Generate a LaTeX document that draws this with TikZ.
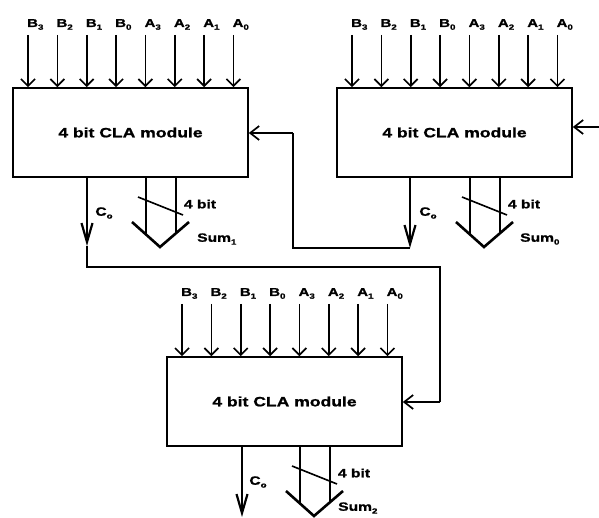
\documentclass[tikz,border=0pt]{standalone}
\usepackage{fontspec}
\setmainfont[FakeStretch=1.3,FakeBold=1.2]{Liberation Sans}
\usetikzlibrary{arrows.meta}
\newcommand\sbs[1]{\raisebox{-0.45ex}{\fontsize{7.5}{7.5}\selectfont #1}}
\tikzset{
  wire/.style={line width=1.6pt},
  clabox/.style={draw, line width=1.6pt, minimum width=235pt, minimum height=89pt, inner sep=0pt,
     font=\fontsize{13.5}{14}\selectfont\bfseries},
  inarr/.style={wire, -{Straight Barb[length=7pt,width=14pt,line width=1.7pt]}},
  cinarr/.style={wire, -{Straight Barb[length=9pt,width=14pt,line width=1.7pt]}},
  coarr/.style={wire, -{Straight Barb[length=19pt,width=11pt,line width=2.2pt]}},
  bus/.style={line width=1.6pt},
  busv/.style={line width=2.6pt},
  inlab/.style={inner sep=0pt, font=\fontsize{11.5}{12}\selectfont\bfseries},
  smlab/.style={inner sep=0pt, font=\fontsize{12}{12}\selectfont\bfseries},
}
\newcommand\clamod[5]{%
  % #1 name, #2 left, #3 top, #4 sum index, #5 sum label x offset
  \node[clabox] (#1) at (#2+117.5, #3+44.5) {4 bit CLA module};
  \foreach \lab [count=\i from 0] in {B\sbs{3},B\sbs{2},B\sbs{1},B\sbs{0},A\sbs{3},A\sbs{2},A\sbs{1},A\sbs{0}} {
    \node[inlab, anchor=base west] (#1lab\i) at (#2+14+29.35*\i, #3-61) {\lab};
    \coordinate (#1in\i) at (#2+15+29.35*\i, #3-53);
    \draw[inarr] (#1in\i) -- (#1in\i |- #1.north);
  }
  % sum bus
  \coordinate (#1sa) at (#2+133, #3+89);
  \coordinate (#1sb) at (#2+163, #3+89);
  \coordinate (#1va) at (#2+119, #3+134);
  \coordinate (#1vt) at (#2+147, #3+159);
  \coordinate (#1vb) at (#2+176, #3+134);
  \draw[bus] (#1sa) -- ++(0,57.5);
  \draw[bus] (#1sb) -- ++(0,56);
  \draw[busv] (#1va) -- (#1vt) -- (#1vb);
  \coordinate (#1sl1) at (#2+125, #3+109);
  \coordinate (#1sl2) at (#2+170, #3+127);
  \draw[wire] (#1sl1) -- (#1sl2);
  \node[smlab, anchor=center] (#1bit) at (#2+187, #3+116) {4 bit};
  \node[smlab, anchor=west] (#1sum) at (#2+#5, #3+151) {Sum\sbs{#4}};
  \node[smlab, anchor=center] (#1colab) at (#2+91, #3+125) {C\sbs{o}};
}
\begin{document}
\begin{tikzpicture}[x=1pt,y=-1pt]
\useasboundingbox (0,0) rectangle (599,518);
\clamod{m1}{13}{88}{1}{184}
\clamod{m2}{337}{88}{0}{183}
\clamod{m3}{167}{357}{2}{171}
% carry-in of m2 from the right
\coordinate (cin) at (599,127);
\draw[cinarr] (cin) -- (cin -| m2.east);
% Co of m2 -> carry-in of m1
\coordinate (c2) at (410,248);
\coordinate (c2up) at (293,248);
\draw[coarr] (m2.south -| c2) -- (c2);
\coordinate (c2top) at (293,133);
\draw[wire] (c2) -- (c2up) -- (c2top);
\draw[cinarr] (c2top) -- (c2top -| m1.east);
% Co of m1 -> carry-in of m3
\coordinate (c1) at (87,246);
\draw[coarr] (m1.south -| c1) -- (c1);
\coordinate (c1r) at (440,267);
\coordinate (c1d) at (440,402);
\draw[wire] (c1) -- (87,267) -- (c1r) -- (c1d);
\draw[cinarr] (c1d) -- (c1d -| m3.east);
% Co of m3
\coordinate (c3) at (242,517);
\draw[coarr] (m3.south -| c3) -- (c3);
\end{tikzpicture}
\end{document}
